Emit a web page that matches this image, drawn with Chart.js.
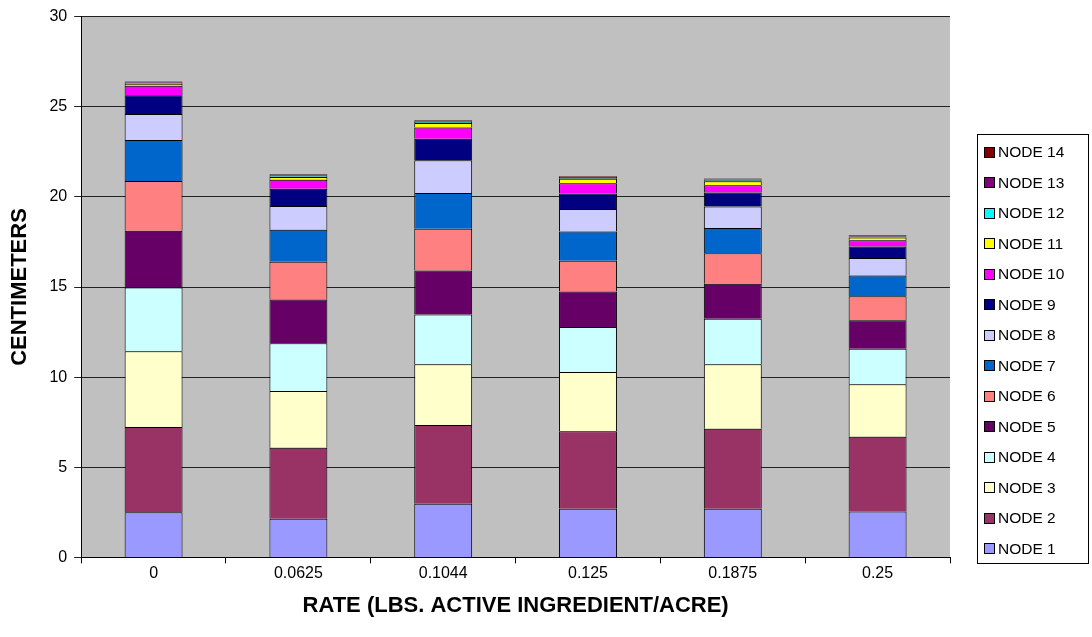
<!DOCTYPE html>
<html lang="en">
<head>
  <meta charset="UTF-8">
  <title>Node lengths by rate</title>
  <script src="https://cdn.jsdelivr.net/npm/chart.js"></script>
  <style>
    body {
      margin: 0;
      padding: 0;
      background: #ffffff;
      font-family: 'Liberation Sans', Arial, sans-serif;
    }
    #wrap {
      position: relative;
      width: 1092px;
      height: 637px;
    }
    #legend {
      position: absolute;
      left: 977px;
      top: 134px;
      width: 112px;
      height: 430px;
      border: 1px solid #000;
      padding-top: 2px;
      box-sizing: border-box;
    }
    .item {
      display: flex;
      align-items: center;
      height: 30.5px;
      padding-left: 6px;
      font-size: 15.5px;
      color: #000;
    }
    .swatch {
      width: 9px;
      height: 9px;
      border: 1px solid #000;
      margin-right: 3px;
    }
  </style>
</head>
<body>
  <div id="wrap">
    <canvas id="nodeChart" width="1092" height="637"></canvas>
    <div id="legend"></div>
  </div>

  <script>
    const rates = ['0', '0.0625', '0.1044', '0.125', '0.1875', '0.25'];
    const yTicks = [0, 5, 10, 15, 20, 25, 30];

    // length of each node segment (cm) per rate
    const node1  = [2.50, 2.15, 2.98, 2.70, 2.70, 2.54];
    const node2  = [4.74, 3.93, 4.37, 4.30, 4.43, 4.15];
    const node3  = [4.20, 3.15, 3.37, 3.28, 3.59, 2.92];
    const node4  = [3.53, 2.65, 2.76, 2.50, 2.52, 1.96];
    const node5  = [3.15, 2.42, 2.43, 1.97, 1.94, 1.58];
    const node6  = [2.76, 2.10, 2.32, 1.71, 1.69, 1.33];
    const node7  = [2.27, 1.78, 1.99, 1.62, 1.40, 1.16];
    const node8  = [1.44, 1.32, 1.81, 1.24, 1.19, 0.97];
    const node9  = [1.05, 0.95, 1.19, 0.86, 0.78, 0.63];
    const node10 = [0.52, 0.50, 0.63, 0.57, 0.41, 0.36];
    const node11 = [0.12, 0.15, 0.25, 0.25, 0.22, 0.15];
    const node12 = [0.05, 0.05, 0.05, 0.05, 0.05, 0.05];
    const node13 = [0.05, 0.05, 0.05, 0.05, 0.05, 0.04];
    const node14 = [0.04, 0.05, 0.05, 0.05, 0.05, 0.04];

    const nodeData = [node1, node2, node3, node4, node5, node6, node7,
                      node8, node9, node10, node11, node12, node13, node14];
    const nodeColors = ['#9999FF', '#993366', '#FFFFCC', '#CCFFFF', '#660066', '#FF8080', '#0066CC',
                        '#CCCCFF', '#000080', '#FF00FF', '#FFFF00', '#00FFFF', '#800080', '#800000'];

    const datasets = nodeData.map((vals, i) => ({
      label: 'NODE ' + (i + 1),
      data: vals,
      backgroundColor: nodeColors[i],
      borderColor: '#000000',
      borderWidth: 1,
      categoryPercentage: 1.0,
      barPercentage: 0.4
    }));

    // grey plot area behind the bars
    const plotBg = {
      id: 'plotBg',
      beforeDraw(chart) {
        const { ctx, chartArea: a } = chart;
        ctx.save();
        ctx.fillStyle = '#C0C0C0';
        ctx.fillRect(a.left, a.top, a.right - a.left, a.bottom - a.top);
        ctx.restore();
      }
    };

    const font = 'Liberation Sans, Arial, sans-serif';

    new Chart(document.getElementById('nodeChart'), {
      type: 'bar',
      data: { labels: rates, datasets },
      plugins: [plotBg],
      options: {
        responsive: false,
        animation: false,
        devicePixelRatio: 1,
        layout: { padding: { top: 5, right: 142, bottom: 18, left: 4 } },
        plugins: {
          tooltip: { enabled: false },
          legend: { display: false }
        },
        scales: {
          x: {
            stacked: true,
            border: { color: '#000000', width: 1 },
            grid: { offset: true, drawOnChartArea: false, drawTicks: true, tickLength: 6, color: '#000000' },
            ticks: { color: '#000000', padding: 1, font: { family: font, size: 16 } },
            title: {
              display: true,
              text: 'RATE (LBS. ACTIVE INGREDIENT/ACRE)',
              color: '#000000',
              padding: { top: 8, bottom: 0 },
              font: { family: font, size: 22, weight: 'bold' }
            }
          },
          y: {
            stacked: true,
            min: 0,
            max: 30,
            afterBuildTicks: axis => { axis.ticks = yTicks.map(v => ({ value: v })); },
            border: { color: '#000000', width: 1 },
            grid: { color: '#222222', tickLength: 7 },
            ticks: { color: '#000000', padding: 7, font: { family: font, size: 16 } },
            title: {
              display: true,
              text: 'CENTIMETERS',
              color: '#000000',
              padding: { top: 3, bottom: 9 },
              font: { family: font, size: 22, weight: 'bold' }
            }
          }
        }
      }
    });

    // legend box on the right, top entry is the last node
    const legend = document.getElementById('legend');
    datasets.slice().reverse().forEach(ds => {
      const row = document.createElement('div');
      row.className = 'item';
      row.innerHTML = `<span class="swatch" style="background:${ds.backgroundColor}"></span><span>${ds.label}</span>`;
      legend.appendChild(row);
    });
  </script>
</body>
</html>
